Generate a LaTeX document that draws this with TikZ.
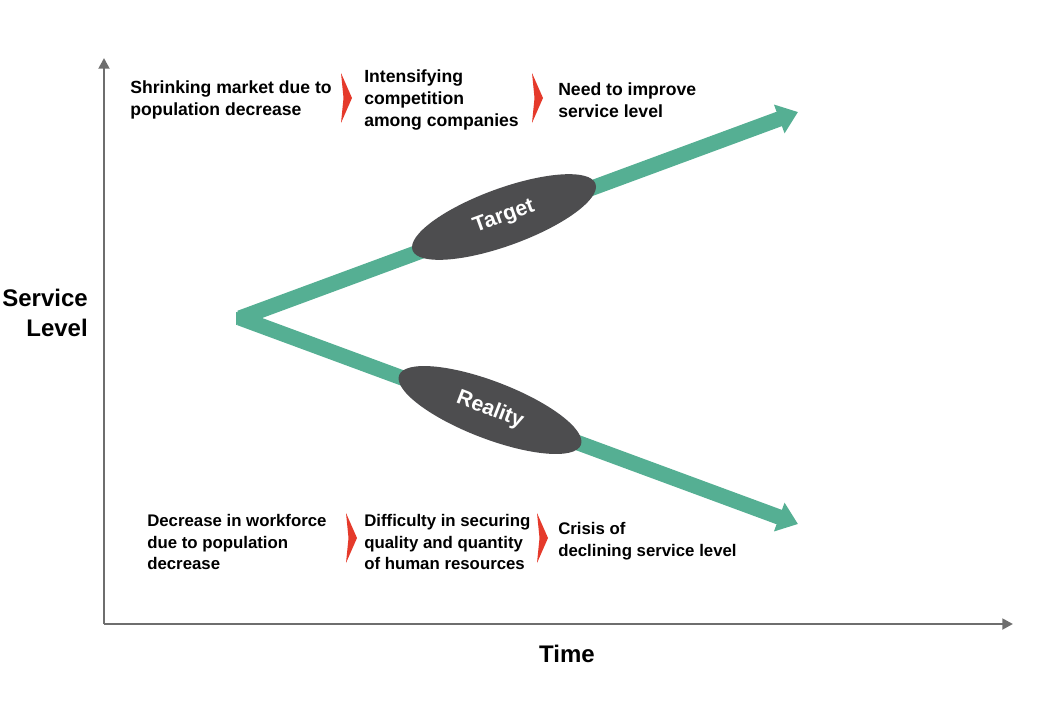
\documentclass[tikz,border=0pt]{standalone}
\usepackage{fontspec}
\setmainfont{Liberation Sans}
\usetikzlibrary{arrows.meta,shapes.geometric}
\definecolor{teal1}{HTML}{55AF93}
\definecolor{darkov}{HTML}{4D4D4F}
\definecolor{chev}{HTML}{E53A2B}
\definecolor{axisg}{HTML}{6E6E6E}
\begin{document}
\begin{tikzpicture}[x=0.75pt,y=-0.75pt,
  txt/.style={font=\bfseries\fontsize{13.2}{16.5}\selectfont, align=left, anchor=west, inner sep=0pt, text=black},
  txtn/.style={txt, font=\bfseries\fontsize{12.6}{16.2}\selectfont},
  axlab/.style={font=\bfseries\fontsize{18}{22}\selectfont, inner sep=0pt},
  axisline/.style={draw=axisg, line width=2.2pt, -{Triangle[length=8pt,width=8pt]}},
  trend/.style={draw=teal1, line width=11.5pt, line join=bevel, -{Triangle[length=15pt,width=22pt]}},
  oval/.style={ellipse, fill=darkov, minimum width=146pt, minimum height=43pt, inner sep=0pt,
    text=white, font=\bfseries\fontsize{16}{19}\selectfont},
  chevshape/.style={fill=chev}
]
\useasboundingbox (0,0) rectangle (1060,708);
% axes
\coordinate (o) at (104,624);
\coordinate (ytop) at (104,58);
\coordinate (xend) at (1013,624);
\draw[axisline] (o) -- (ytop);
\draw[axisline] (o) -- (xend);
\node[axlab, align=right, anchor=east] (ylab) at (88,313) {Service\\Level};
\node[axlab] (xlab) at (567,654) {Time};
% trend arrows
\coordinate (v) at (240,318);
\coordinate (up) at (798,112);
\coordinate (dn) at (798,524);
\draw[trend] (v) -- (up);
\draw[trend] (v) -- (dn);
\fill[teal1] (236,312) -- (250,314) -- (250,322) -- (236,325) -- cycle;
% ovals
\node[oval, rotate=20] (target) at (504,217) {Target};
\node[oval, rotate=-21] (reality) at (490,410) {Reality};
% top texts
\node[txt] (t1) at (130,100) {Shrinking market due to\\population decrease};
\node[txt] (t2) at (364,100) {Intensifying\\competition\\among companies};
\node[txt] (t3) at (558,100) {Need to improve\\service level};
\fill[chevshape] (341,73) -- (352,98) -- (341,123) -- (343.5,98) -- cycle;
\fill[chevshape] (532,73) -- (543,98) -- (532,123) -- (534.5,98) -- cycle;
% bottom texts
\node[txtn] (b1) at (147,542) {Decrease in workforce\\due to population\\decrease};
\node[txtn] (b2) at (364,542) {Difficulty in securing\\quality and quantity\\of human resources};
\node[txtn] (b3) at (558,541) {Crisis of\\declining service level};
\fill[chevshape] (346,513) -- (357,538) -- (346,563) -- (348.5,538) -- cycle;
\fill[chevshape] (537,513) -- (548,538) -- (537,563) -- (539.5,538) -- cycle;
\end{tikzpicture}
\end{document}
